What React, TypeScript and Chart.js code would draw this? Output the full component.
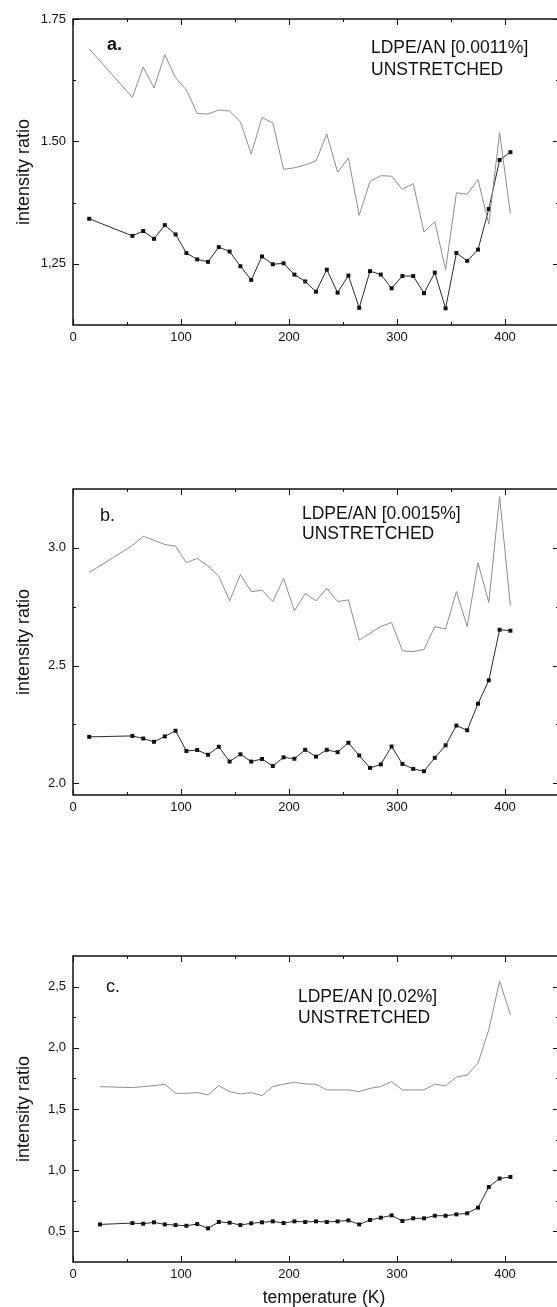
import { useEffect, useRef } from "react";
import { Chart, registerables } from "chart.js";

Chart.register(...registerables);

// ---------- data ----------
const tempAB = [15, 55, 65, 75, 85, 95, 105, 115, 125, 135, 145, 155, 165, 175, 185, 195, 205, 215, 225, 235, 245, 255, 265, 275, 285, 295, 305, 315, 325, 335, 345, 355, 365, 375, 385, 395, 405];
const tempC = [25, 55, 65, 75, 85, 95, 105, 115, 125, 135, 145, 155, 165, 175, 185, 195, 205, 215, 225, 235, 245, 255, 265, 275, 285, 295, 305, 315, 325, 335, 345, 355, 365, 375, 385, 395, 405];

const blackA = [1.342, 1.307, 1.317, 1.301, 1.329, 1.31, 1.272, 1.259, 1.254, 1.284, 1.275, 1.245, 1.217, 1.265, 1.249, 1.251, 1.228, 1.214, 1.193, 1.238, 1.191, 1.226, 1.16, 1.235, 1.228, 1.2, 1.225, 1.225, 1.19, 1.232, 1.159, 1.272, 1.256, 1.279, 1.362, 1.462, 1.478];
const greyA = [1.689, 1.59, 1.652, 1.609, 1.677, 1.63, 1.605, 1.557, 1.556, 1.564, 1.562, 1.54, 1.474, 1.549, 1.538, 1.443, 1.446, 1.452, 1.46, 1.515, 1.437, 1.466, 1.349, 1.418, 1.43, 1.429, 1.402, 1.414, 1.315, 1.336, 1.238, 1.395, 1.392, 1.422, 1.331, 1.518, 1.352];

const blackB = [2.197, 2.201, 2.19, 2.176, 2.199, 2.223, 2.137, 2.141, 2.121, 2.155, 2.092, 2.123, 2.092, 2.103, 2.073, 2.11, 2.104, 2.142, 2.113, 2.142, 2.132, 2.172, 2.118, 2.065, 2.08, 2.156, 2.082, 2.061, 2.051, 2.108, 2.161, 2.245, 2.225, 2.338, 2.437, 2.652, 2.648];
const greyB = [2.895, 3.01, 3.049, 3.032, 3.014, 3.007, 2.937, 2.955, 2.923, 2.88, 2.775, 2.887, 2.814, 2.82, 2.772, 2.87, 2.732, 2.806, 2.775, 2.828, 2.772, 2.779, 2.608, 2.637, 2.666, 2.683, 2.563, 2.559, 2.568, 2.665, 2.655, 2.814, 2.666, 2.937, 2.768, 3.218, 2.754];

const blackC = [0.557, 0.568, 0.563, 0.574, 0.557, 0.552, 0.546, 0.56, 0.525, 0.577, 0.571, 0.552, 0.566, 0.574, 0.582, 0.568, 0.582, 0.577, 0.582, 0.577, 0.582, 0.59, 0.557, 0.593, 0.612, 0.631, 0.585, 0.607, 0.607, 0.628, 0.628, 0.639, 0.648, 0.694, 0.863, 0.932, 0.945];
const greyC = [1.683, 1.675, 1.683, 1.691, 1.702, 1.628, 1.628, 1.634, 1.615, 1.691, 1.642, 1.623, 1.634, 1.609, 1.683, 1.702, 1.719, 1.705, 1.702, 1.656, 1.656, 1.656, 1.642, 1.669, 1.683, 1.724, 1.656, 1.656, 1.656, 1.702, 1.689, 1.76, 1.779, 1.874, 2.147, 2.544, 2.27];

const xTicks = [0, 100, 200, 300, 400];
const xTickLabels = ["0", "100", "200", "300", "400"];
const xMinor = [50, 150, 250, 350];

const yTicksA = [1.25, 1.5, 1.75];
const yLabelsA = ["1,25", "1.50", "1.75"];
const yMinorA = [1.375, 1.625];

const yTicksB = [2.0, 2.5, 3.0];
const yLabelsB = ["2.0", "2.5", "3.0"];
const yMinorB = [2.25, 2.75];

const yTicksC = [0.5, 1.0, 1.5, 2.0, 2.5];
const yLabelsC = ["0,5", "1,0", "1,5", "2,0", "2,5"];
const yMinorC = [0.75, 1.25, 1.75, 2.25];

const tags = ["a.", "b.", "c."];
const sampleLabels = ["LDPE/AN [0.0011%]", "LDPE/AN [0.0015%]", "LDPE/AN [0.02%]"];
const stateLabel = "UNSTRETCHED";
const yTitle = "intensity ratio";
const xTitle = "temperature (K)";

// ---------- layout ----------
const FONT = "'Liberation Sans', Arial, Helvetica, sans-serif";
const CANVAS_W = 570;

type Panel = {
  top: number;
  height: number;
  axisH: number;
  temps: number[];
  black: number[];
  grey: number[];
  yMin: number;
  yMax: number;
  yTicks: number[];
  yLabels: string[];
  yMinor: number[];
  tag: string;
  tagBold: boolean;
  tagX: number;
  tagY: number;
  label: string;
  textX: number;
  line1Y: number;
  line2Y: number;
  showXTitle: boolean;
  xTitleY: number;
};

const panels: Panel[] = [
  {
    top: 0, height: 355, axisH: 30, temps: tempAB, black: blackA, grey: greyA,
    yMin: 1.125, yMax: 1.75, yTicks: yTicksA, yLabels: yLabelsA, yMinor: yMinorA,
    tag: tags[0], tagBold: true, tagX: 107, tagY: 50, label: sampleLabels[0],
    textX: 371, line1Y: 53, line2Y: 75, showXTitle: false, xTitleY: 0,
  },
  {
    top: 470, height: 355, axisH: 30, temps: tempAB, black: blackB, grey: greyB,
    yMin: 1.95, yMax: 3.25, yTicks: yTicksB, yLabels: yLabelsB, yMinor: yMinorB,
    tag: tags[1], tagBold: false, tagX: 100, tagY: 51, label: sampleLabels[1],
    textX: 302, line1Y: 49, line2Y: 69, showXTitle: false, xTitleY: 0,
  },
  {
    top: 937, height: 375, axisH: 50, temps: tempC, black: blackC, grey: greyC,
    yMin: 0.25, yMax: 2.75, yTicks: yTicksC, yLabels: yLabelsC, yMinor: yMinorC,
    tag: tags[2], tagBold: false, tagX: 106, tagY: 55, label: sampleLabels[2],
    textX: 298, line1Y: 65, line2Y: 86, showXTitle: true, xTitleY: 366,
  },
];

function makeDecor(p: Panel) {
  return {
    id: "decor",
    afterDraw(chart: any) {
      const { ctx, chartArea: a, scales } = chart;
      const xs = scales.x;
      const ys = scales.y;
      ctx.save();
      ctx.strokeStyle = "#111";
      ctx.lineWidth = 1.5;
      ctx.strokeRect(a.left, a.top, a.right - a.left, a.bottom - a.top);
      ctx.lineWidth = 1;
      ctx.beginPath();
      const xt = (v: number, len: number) => {
        const px = Math.round(xs.getPixelForValue(v)) + 0.5;
        ctx.moveTo(px, a.bottom);
        ctx.lineTo(px, a.bottom - len);
        ctx.moveTo(px, a.top);
        ctx.lineTo(px, a.top + len);
      };
      const yt = (v: number, len: number) => {
        const py = Math.round(ys.getPixelForValue(v)) + 0.5;
        ctx.moveTo(a.left, py);
        ctx.lineTo(a.left + len, py);
        ctx.moveTo(a.right, py);
        ctx.lineTo(a.right - len, py);
      };
      xTicks.forEach((v) => xt(v, 6));
      xMinor.forEach((v) => xt(v, 3));
      p.yTicks.forEach((v) => yt(v, 6));
      p.yMinor.forEach((v) => yt(v, 3));
      ctx.stroke();

      ctx.fillStyle = "#111";
      ctx.textAlign = "left";
      ctx.textBaseline = "alphabetic";
      ctx.font = `${p.tagBold ? "bold " : ""}18px ${FONT}`;
      ctx.fillText(p.tag, p.tagX, p.tagY);
      ctx.font = `17.5px ${FONT}`;
      ctx.fillText(p.label, p.textX, p.line1Y);
      ctx.fillText(stateLabel, p.textX, p.line2Y);
      if (p.showXTitle) {
        ctx.textAlign = "center";
        ctx.font = `17.5px ${FONT}`;
        ctx.fillText(xTitle, (a.left + a.right) / 2 + 8, p.xTitleY);
      }
      ctx.restore();
    },
  };
}

function PanelChart({ p }: { p: Panel }) {
  const ref = useRef<HTMLCanvasElement | null>(null);
  useEffect(() => {
    if (!ref.current) return;
    const chart = new Chart(ref.current, {
      type: "line",
      data: {
        datasets: [
          {
            data: p.temps.map((t, i) => ({ x: t, y: p.grey[i] })),
            borderColor: "#8c8c8c",
            borderWidth: 1,
            pointRadius: 0,
            tension: 0,
          },
          {
            data: p.temps.map((t, i) => ({ x: t, y: p.black[i] })),
            borderColor: "#2a2a2a",
            borderWidth: 1,
            pointRadius: 2.8,
            pointStyle: "rect",
            pointBackgroundColor: "#111",
            pointBorderColor: "#111",
            pointBorderWidth: 0,
            tension: 0,
          },
        ],
      },
      options: {
        animation: false,
        responsive: false,
        maintainAspectRatio: false,
        events: [],
        layout: { padding: { top: 19, right: CANVAS_W - 559, bottom: 0, left: 0 } },
        plugins: { legend: { display: false }, tooltip: { enabled: false } },
        scales: {
          x: {
            type: "linear",
            min: 0,
            max: 450,
            grid: { display: false, drawTicks: false },
            border: { display: false },
            afterBuildTicks: (s: any) => {
              s.ticks = xTicks.map((v) => ({ value: v }));
            },
            afterFit: (s: any) => {
              s.height = p.axisH;
            },
            ticks: {
              autoSkip: false,
              maxRotation: 0,
              padding: 5,
              color: "#111",
              font: { family: FONT, size: 13 },
              callback: (_v: any, i: number) => xTickLabels[i],
            },
          },
          y: {
            type: "linear",
            min: p.yMin,
            max: p.yMax,
            grid: { display: false, drawTicks: false },
            border: { display: false },
            afterBuildTicks: (s: any) => {
              s.ticks = p.yTicks.map((v) => ({ value: v }));
            },
            afterFit: (s: any) => {
              s.width = 73;
            },
            ticks: {
              autoSkip: false,
              padding: 7,
              color: "#111",
              font: { family: FONT, size: 13 },
              callback: (_v: any, i: number) => p.yLabels[i],
            },
            title: {
              display: true,
              text: yTitle,
              color: "#111",
              font: { family: FONT, size: 18 },
              padding: { top: 13, bottom: 0 },
            },
          },
        },
      },
      plugins: [makeDecor(p)],
    } as any);
    return () => chart.destroy();
  }, [p]);
  return (
    <canvas
      ref={ref}
      width={CANVAS_W}
      height={p.height}
      style={{ position: "absolute", left: 0, top: p.top, width: CANVAS_W, height: p.height }}
    />
  );
}

export default function App() {
  return (
    <div
      style={{
        position: "absolute",
        left: 0,
        top: 0,
        width: 557,
        height: 1307,
        overflow: "hidden",
        background: "#fff",
      }}
    >
      {panels.map((p, i) => (
        <PanelChart key={i} p={p} />
      ))}
    </div>
  );
}
